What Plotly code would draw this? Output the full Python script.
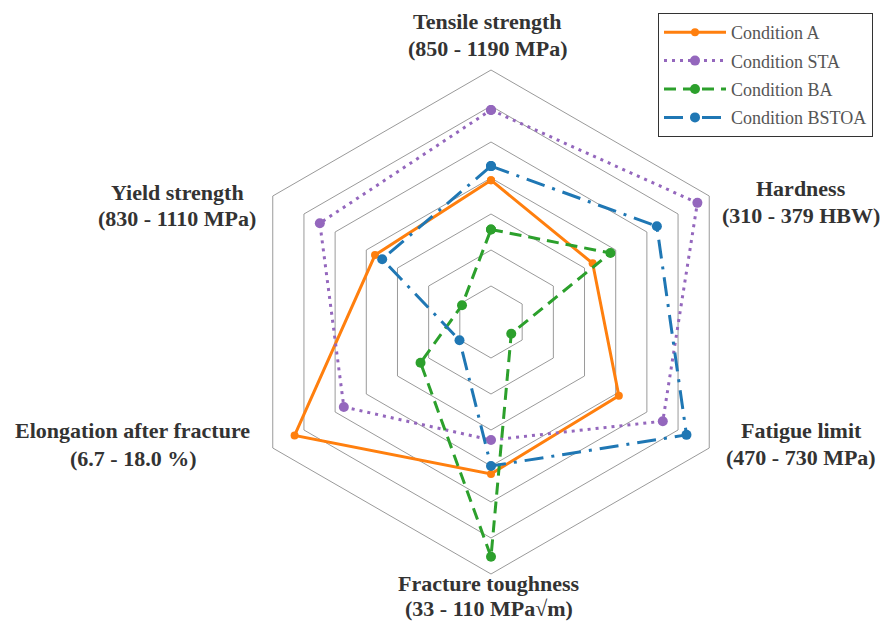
import plotly.graph_objects as go

# Axis labels (clockwise from top)
axes = ["Tensile strength", "Hardness", "Fatigue limit",
        "Fracture toughness", "Elongation after fracture", "Yield strength"]
axis_ranges = ["(850 - 1190 MPa)", "(310 - 379 HBW)", "(470 - 730 MPa)",
               "(33 - 110 MPa√m)", "(6.7 - 18.0 %)", "(830 - 1110 MPa)"]

# Normalised scores (grid units)
cond_a = [3.94, 3.26, 4.10, 4.22, 6.30, 3.72]
cond_sta = [5.89, 6.62, 5.51, 3.28, 4.72, 5.49]
cond_ba = [2.57, 3.83, 0.65, 6.52, 2.26, 0.93]
cond_bstoa = [4.33, 5.32, 6.27, 4.00, 1.01, 3.49]

ring_vals = [1, 2, 3, 4, 5, 6]
r_max = 7

series = [
    ("Condition A", cond_a, "#ff7f0e", "solid", 3, 8),
    ("Condition STA", cond_sta, "#9467bd", "3px,5px", 3, 10),
    ("Condition BA", cond_ba, "#2ca02c", "12px,7px", 3, 10),
    ("Condition BSTOA", cond_bstoa, "#1f77b4", "19px,8px,3px,8px", 3, 10),
]

fig = go.Figure()
for i, (name, vals, col, dash, lw, ms) in enumerate(series):
    fig.add_trace(go.Scatterpolar(
        r=vals + vals[:1], theta=axes + axes[:1], name=name,
        mode="lines+markers", legendgroup=f"g{i}",
        line=dict(color=col, width=lw, dash=dash),
        marker=dict(color=col, size=ms, symbol="circle"),
    ))

# the page body adds an 8px margin on every side; keep the figure inside the window
OFF = 8
W, H = 889 - 2 * OFF, 631 - 2 * OFF


def px_x(x):
    return (x - OFF) / W


def px_y(y):
    return 1 - (y - OFF) / H


# (x centre, first line y, second line y) in window pixels
label_pos = [(487, 22, 48), (801, 188, 215), (801, 431, 457),
             (489, 583, 608), (133, 431, 458), (177, 192, 218)]
annotations = []
label_font = dict(family="Liberation Serif", size=22, color="#333333")
for name, rng, (px, y1, y2) in zip(axes, axis_ranges, label_pos):
    for txt, py in ((name, y1), (rng, y2)):
        annotations.append(dict(
            text=f"<b>{txt}</b>", x=px_x(px), y=px_y(py),
            xref="paper", yref="paper", xanchor="center", yanchor="middle",
            showarrow=False, align="center", font=label_font,
        ))

fig.update_layout(
    width=W, height=H, margin=dict(l=0, r=0, t=0, b=0),
    paper_bgcolor="white", plot_bgcolor="white",
    polar=dict(
        domain=dict(x=[px_x(239), px_x(743)], y=[px_y(574), px_y(70)]),
        gridshape="linear", bgcolor="white",
        radialaxis=dict(range=[0, r_max], tickvals=ring_vals, showticklabels=False,
                        ticks="", showline=False, gridcolor="#9a9a9a", gridwidth=1),
        angularaxis=dict(rotation=90, direction="clockwise", showticklabels=False,
                         ticks="", showgrid=False, showline=True,
                         linecolor="#9a9a9a", linewidth=1),
    ),
    legend=dict(x=px_x(658), y=px_y(13), xanchor="left", yanchor="top",
                bgcolor="white", bordercolor="#333333", borderwidth=1,
                font=dict(family="Liberation Serif", size=18, color="#555555"),
                tracegroupgap=2, itemwidth=62),
    annotations=annotations,
)
fig.write_html("out.html")
